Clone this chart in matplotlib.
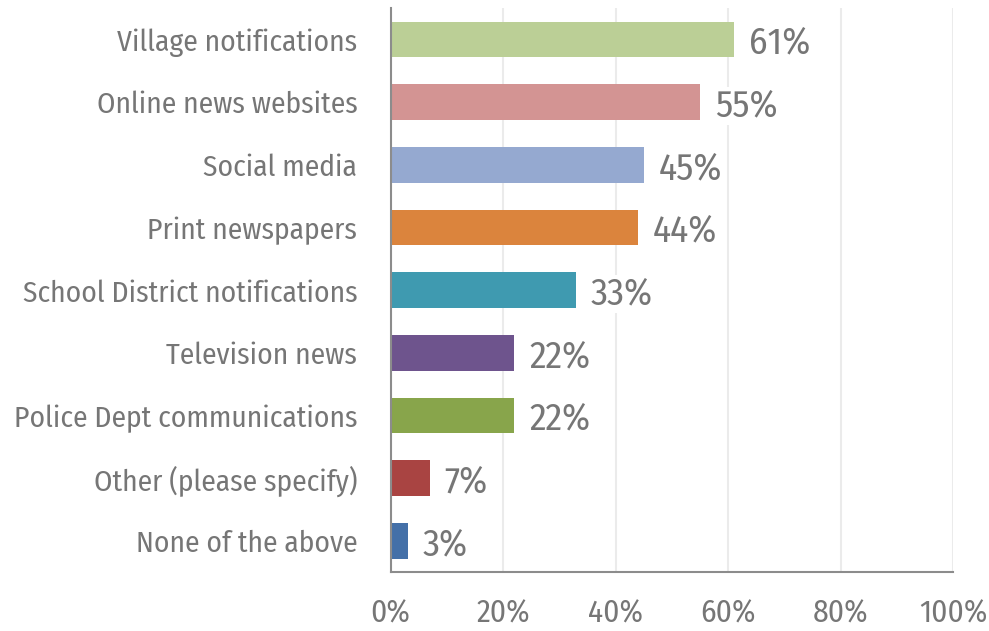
import matplotlib
matplotlib.use('Agg')
import matplotlib.pyplot as plt
from matplotlib import font_manager
from matplotlib.ticker import FuncFormatter


def pick_font():
    # regular-weight semi-condensed humanist face, falling back to condensed
    prefs = [('Open Sans', 'semi-condensed'), ('Noto Sans', 'semi-condensed'),
             ('Open Sans', 'condensed'), ('Noto Sans', 'condensed'),
             ('Fira Sans Condensed', 'condensed')]
    for name, stretch in prefs:
        for f in font_manager.fontManager.ttflist:
            if (f.name in (name, name + ' SemiCondensed', name + ' Condensed')
                    and f.stretch == stretch and f.weight == 400 and f.style == 'normal'):
                return f.fname
    return None


fpath = pick_font()

categories = ['Village notifications', 'Online news websites', 'Social media',
              'Print newspapers', 'School District notifications', 'Television news',
              'Police Dept communications', 'Other (please specify)', 'None of the above']
values = [61, 55, 45, 44, 33, 22, 22, 7, 3]
colors = ['#BBCF96', '#D39493', '#95A9D0', '#DB843D', '#3F9AB0',
          '#6E548D', '#88A54B', '#A94442', '#4470A8']
xticks = [0, 20, 40, 60, 80, 100]

grey = '#767676'


def fp(size):
    if fpath:
        return font_manager.FontProperties(fname=fpath, size=size)
    return font_manager.FontProperties(size=size)


fig = plt.figure(figsize=(9.89, 6.31), dpi=100)
ax = fig.add_axes([0.395, 0.093, 0.569, 0.894])

y = list(range(len(categories)))
ax.barh(y, values, height=0.57, color=colors, zorder=2)
ax.set_ylim(len(categories) - 0.5, -0.5)
ax.set_xlim(0, 100)

for yi, v in zip(y, values):
    ax.text(v + 2.6, yi + 0.06, f'{v}%', va='center', ha='left', color=grey,
            fontproperties=fp(27),
            bbox=dict(facecolor='white', edgecolor='none', pad=1), zorder=3)

ax.set_yticks(y)
ax.set_yticklabels(categories, color=grey)
for lab in ax.get_yticklabels():
    lab.set_fontproperties(fp(21.2))
ax.set_xticks(xticks)
ax.xaxis.set_major_formatter(FuncFormatter(lambda v, p: f'{v:.0f}%'))
ax.tick_params(axis='x', colors=grey, length=0, pad=19)
for lab in ax.get_xticklabels():
    lab.set_fontproperties(fp(22.5))
ax.tick_params(axis='y', length=0, pad=24)

ax.grid(axis='x', color='#EBEBEB', linewidth=1.5, zorder=0)
ax.set_axisbelow(True)
for s in ['top', 'right']:
    ax.spines[s].set_visible(False)
for s in ['left', 'bottom']:
    ax.spines[s].set_color('#8C8C8C')
    ax.spines[s].set_linewidth(1.5)

fig.savefig('out.png', dpi=100)
